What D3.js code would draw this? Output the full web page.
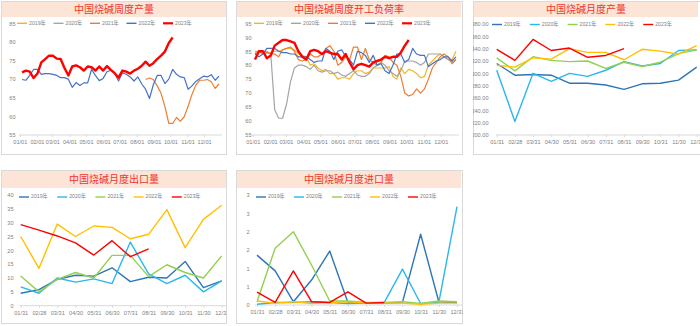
<!DOCTYPE html>
<html><head><meta charset="utf-8">
<script src="https://cdn.jsdelivr.net/npm/d3@7/dist/d3.min.js"></script>
<style>
body{margin:0;background:#fff}
svg{display:block}
text{font-family:"Liberation Sans","Noto Sans CJK SC",Arial,sans-serif}
</style>
</head><body>
<svg id="c" width="700" height="326"></svg>
<script>
// ---------------- DATA ----------------
const yearNames = ["2019年","2020年","2021年","2022年","2023年"];
const weeklyTickLabels = ["01/01","02/01","03/01","04/01","05/01","06/01","07/01","08/01","09/01","10/01","11/01","12/01"];
const weeklyTickDays = [0,31,59,90,120,151,181,212,243,273,304,334];
const firstWeekDay = 4;
const monthLabels = ["01/31","02/28","03/31","04/30","05/31","06/30","07/31","08/31","09/30","10/31","11/30","12/31"];

// Panel 1: 中国烧碱周度产量 (weekly output)
const outputTitle = "中国烧碱周度产量";
const outputYTicks = [55,60,65,70,75,80,85];
const output2019 = [];
const output2020 = [];
const output2021Start = 32;
const output2021 = [69.9,70.3,69.9,68.2,66.2,62.6,58.1,58.1,59.7,58.7,59.9,62.7,65.9,68.4,69.7,69.7,69.9,69.3,67.5,68.7];
const output2022 = [69.9,69.7,71,72.6,72.6,71.3,71.5,71.5,71.3,71,70.4,70.4,70,67.8,69.1,68.3,69,69,72.6,71,69.6,70.2,72,72.4,71.5,69.5,71.7,71.3,70.6,69.5,70.6,68.7,67.3,64.8,68.5,71,71,68.8,70,72.6,71.3,70.6,70.4,67.3,68.2,69.4,70.1,70.8,70.6,71.2,69.7,70.8];
const output2023 = [71.8,72.3,72,70.3,71.5,74.5,75.4,76.3,76.3,75.5,75.4,73,71,73.4,73.7,73.2,72.3,73.4,73.2,72.3,73.4,72.3,73.5,72.5,71.6,70.4,72.3,72,71.5,72.3,72.8,73.6,74.7,73.6,74.3,75.4,76.3,77.4,79.7,81.2];

// Panel 2: 中国烧碱周度开工负荷率 (weekly operating rate)
const rateTitle = "中国烧碱周度开工负荷率";
const rateYTicks = [55,60,65,70,75,80,85,90,95];
const rate2019 = [84.5,85,85,84.5,84.5,85,85,85.5,86,86,85.5,84,83.5,83,80,80.5,79,78,78.5,77,77,75,75.5,75.5,75,77,78,78,77,77.5,79,79,79,79,79.5,76,75,79,77,78.5,78,77,75.5,76,80,81.5,83,84,83,82,82,85];
const rate2020 = [85,85,85,85,84,64,61,61,66,74,79,80,80,79.5,78.5,80,78,77.5,78,78,77,77.5,76.5,76,77,78,76.5,76,76,77,79,80,81,80,78,77,76,78,81.5,81.5,81.5,81,80,81,84,84,84,84,83,82,81,82];
const rate2021 = [84,85,84,84.5,84,84,83,85.5,86,86.5,85,82,81.5,82,84,83,83,84,86,87,85,80,81,83,82,86.5,86.5,82,86,82,81,80,81,83.5,83,81,80,76,70,69,69.5,71.5,70,71.5,75,79,81,83,84,83,80.5,82];
const rate2022 = [84,83,84,86,86,86,85,84.5,84.5,84,84,83,83,83,82,81,81.5,81.5,86,85,82,85,85.5,83,82,80,85,84.5,83.5,81,83.5,80,80.5,78,77,80,84,84,81,82,86,84,83.5,83.5,79.5,80.5,81.5,82,83,83,81.5,83];
const rate2023 = [82,85,85,82.5,83.5,87,88,89,89,88.5,88,85,83,82,85,85.5,85,84,85,84.5,84,84,82,84,81,78.5,80,80.5,80,79.5,81,81.5,82,83,82.5,83,83,84.5,87,89];

// Panel 3: 中国烧碱月度产量 (monthly output)
const monthOutTitle = "中国烧碱月度产量";
const monthOutYTicks = [200,220,240,260,280,300,320,340,360,380];
const monthOut2019 = [316,297,298,297,284,284,281,274,283,284,289,310];
const monthOut2020 = [305,222,300,287,300,295,305,319,312,316,337,338];
const monthOut2021 = [325,304,327,321,319,320,308,318,311,318,332,338];
const monthOut2022 = [313,310,325,323,340,334,334,322,339,336,331,345];
const monthOut2023 = [339,321,355,337,341,326,329,340];

// Panel 4: 中国烧碱月度出口量 (monthly exports)
const exportTitle = "中国烧碱月度出口量";
const exportYTicks = [0,5,10,15,20,25,30,35,40];
const export2019 = [4.5,5.8,9.5,11,10.7,13.7,8.7,10.3,10,16,6.5,9];
const export2020 = [6.8,4.5,10,8.5,9.7,8,23,11.5,8,11,5,9];
const export2021 = [10.7,5,9.5,12,10,18.2,18.2,10.5,14.8,12,10,18];
const export2022 = [25,13.5,29.5,25,28.8,28.3,24.2,25.8,34.7,21,31.2,36.3];
const export2023 = [29.3,27.3,25.2,22.7,18.3,23.5,17.7,20.5];

// Panel 5: 中国烧碱月度进口量 (monthly imports)
const importTitle = "中国烧碱月度进口量";
const importYTicks = [0,0.5,1,1.5,2,2.5,3];
const importYTickLabels = ["0","1","1","2","2","3","3"];
const import2019 = [1.36,0.93,0.09,0.68,1.47,0.07,0.05,0.05,0.07,1.93,0.09,0.07];
const import2020 = [0.02,0.07,0.07,0.09,0.07,0.04,0.05,0.07,0.98,0.04,0.07,2.68];
const import2021 = [0.09,1.55,2.0,1.09,0.11,0.11,0.07,0.07,0.09,0.04,0.11,0.09];
const import2022 = [0.11,0.05,0.09,0.04,0.07,0.09,0.05,0.05,0.05,0.02,0.05,0.05];
const import2023 = [0.35,0.07,0.93,0.09,0.07,0.36,0.05,0.07];

// ---------------- DRAWING ----------------
const svg = d3.select("#c");
const weeklyColors = ["#f0b62a","#a5a5a5","#ed7d31","#4472c4","#ff0000"];
const monthlyColors = ["#2e75b6","#2bb7ee","#92d050","#ffc000","#ff0000"];
const padStart = (start, arr) => Array(start).fill(null).concat(arr);

let clipId = 0;
function panel(o){
  const g = svg.append("g");
  const id = "clip" + (clipId++);
  svg.append("clipPath").attr("id", id).append("rect")
    .attr("x", o.box[0]).attr("y", o.box[1]).attr("width", o.box[2]-o.box[0]).attr("height", o.box[3]-o.box[1]);
  g.attr("clip-path", `url(#${id})`);
  g.append("rect").attr("x", o.box[0]+0.5).attr("y", o.box[1]+0.5)
    .attr("width", o.box[2]-o.box[0]-1).attr("height", o.box[3]-o.box[1]-1)
    .attr("fill", "#fff").attr("stroke", "#d9d9d9");
  // title band
  g.append("rect").attr("x", o.box[0]+1).attr("y", o.box[1]+1)
    .attr("width", o.bandW).attr("height", o.bandH).attr("fill", "#fce4d6");
  g.append("text").attr("x", o.box[0]+1+o.bandW/2).attr("y", o.box[1]+1+o.bandH/2+0.5)
    .attr("text-anchor","middle").attr("dominant-baseline","middle")
    .attr("font-size", 10).attr("fill", "#f0342c")
    .style("font-family", '"Noto Sans CJK SC",sans-serif').text(o.title);

  const y = d3.scaleLinear().domain(o.yDomain).range(o.yRange);
  const x = d3.scaleLinear().domain(o.xDomain).range(o.xRange);

  // y axis labels
  const ya = d3.axisLeft(y).tickValues(o.yTicks).tickSize(0).tickPadding(0)
    .tickFormat((d,i)=> o.yTickLabels ? o.yTickLabels[i] : o.yFmt(d));
  const yg = g.append("g").attr("transform", `translate(${o.yLabelX},0)`).call(ya);
  yg.select(".domain").remove();
  yg.selectAll("text").attr("font-size", 5.6).attr("fill", "#7f7f7f").style("font-family",'"Liberation Sans",Arial');

  // x axis
  const xa = d3.axisBottom(x).tickValues(o.xTicks).tickSize(2).tickPadding(3)
    .tickFormat((d,i)=>o.xTickLabels[i]);
  const xg = g.append("g").attr("transform", `translate(0,${y(o.yDomain[0])})`).call(xa);
  xg.select(".domain").attr("stroke","#d9d9d9").attr("d", `M${o.axisX[0]},0H${o.axisX[1]}`);
  xg.selectAll("line").attr("stroke","#d9d9d9");
  xg.selectAll("text").attr("font-size", 5.6).attr("fill", "#7f7f7f").style("font-family",'"Liberation Sans",Arial');

  // lines
  const line = d3.line().defined(d=>d!=null).x((d,i)=>x(i)).y(d=>y(d));
  o.series.forEach((s,i)=>{
    if(!s.length) return;
    g.append("path").datum(s).attr("fill","none")
      .attr("stroke", o.colors[i]).attr("stroke-width", o.widths[i])
      .attr("stroke-linejoin","round").attr("d", line);
  });

  // legend
  yearNames.forEach((n,i)=>{
    const lx = o.legendX + i*o.legendStep;
    g.append("line").attr("x1", lx).attr("x2", lx+10).attr("y1", o.legendY).attr("y2", o.legendY)
      .attr("stroke", o.colors[i]).attr("stroke-width", i===4 && o.weekly ? 2.2 : 1.4);
    g.append("text").attr("x", lx+12).attr("y", o.legendY).attr("dominant-baseline","middle")
      .attr("font-size", 5.2).attr("fill","#7f7f7f").text(n);
  });
}

const weekTickPos = weeklyTickDays.map(d=>(d-firstWeekDay)/7);

panel({box:[1,1,227,155], bandW:224, bandH:15, title: outputTitle,
  yDomain:[55,85], yRange:[135,23.3], yTicks: outputYTicks, yFmt:d3.format("d"), yLabelX:15.5,
  xDomain:[0,51], xRange:[22,219], xTicks: weekTickPos, xTickLabels: weeklyTickLabels, axisX:[19,222],
  series:[output2019, output2020, padStart(output2021Start, output2021), output2022, output2023],
  colors: weeklyColors, widths:[1.2,1.2,1.2,1.2,2.4], weekly:true,
  legendX:17, legendY:23.3, legendStep:36.5});

panel({box:[236,1,463,155], bandW:224, bandH:15, title: rateTitle,
  yDomain:[55,95], yRange:[135,23.3], yTicks: rateYTicks, yFmt:d3.format("d"), yLabelX:251.5,
  xDomain:[0,51], xRange:[255,456], xTicks: weekTickPos, xTickLabels: weeklyTickLabels, axisX:[252,459],
  series:[rate2019, rate2020, rate2021, rate2022, rate2023],
  colors: weeklyColors, widths:[1.2,1.2,1.2,1.2,2.4], weekly:true,
  legendX:254, legendY:23.3, legendStep:37});

panel({box:[473,1,703,155], bandW:224, bandH:15, title: monthOutTitle,
  yDomain:[200,380], yRange:[135,24], yTicks: monthOutYTicks, yFmt:d3.format(".2f"), yLabelX:488.5,
  xDomain:[0,11], xRange:[496.7,696.7], xTicks: d3.range(12), xTickLabels: monthLabels, axisX:[496,702],
  series:[monthOut2019, monthOut2020, monthOut2021, monthOut2022, monthOut2023],
  colors: monthlyColors, widths:[1.4,1.4,1.4,1.4,1.4], weekly:false,
  legendX:492, legendY:24.5, legendStep:37.8});

panel({box:[1,170,227,324], bandW:224, bandH:17, title: exportTitle,
  yDomain:[0,40], yRange:[305.7,195], yTicks: exportYTicks, yFmt:d3.format("d"), yLabelX:13.5,
  xDomain:[0,11], xRange:[20.7,221.7], xTicks: d3.range(12), xTickLabels: monthLabels, axisX:[19,226],
  series:[export2019, export2020, export2021, export2022, export2023],
  colors: monthlyColors, widths:[1.4,1.4,1.4,1.4,1.4], weekly:false,
  legendX:19, legendY:197, legendStep:38.2});

panel({box:[236,170,463,324], bandW:224, bandH:17, title: importTitle,
  yDomain:[0,3], yRange:[305,195], yTicks: importYTicks, yTickLabels: importYTickLabels, yLabelX:249.5,
  xDomain:[0,11], xRange:[257,457], xTicks: d3.range(12), xTickLabels: monthLabels, axisX:[255,463],
  series:[import2019, import2020, import2021, import2022, import2023],
  colors: monthlyColors, widths:[1.4,1.4,1.4,1.4,1.4], weekly:false,
  legendX:256, legendY:197, legendStep:38});
</script>
</body></html>
